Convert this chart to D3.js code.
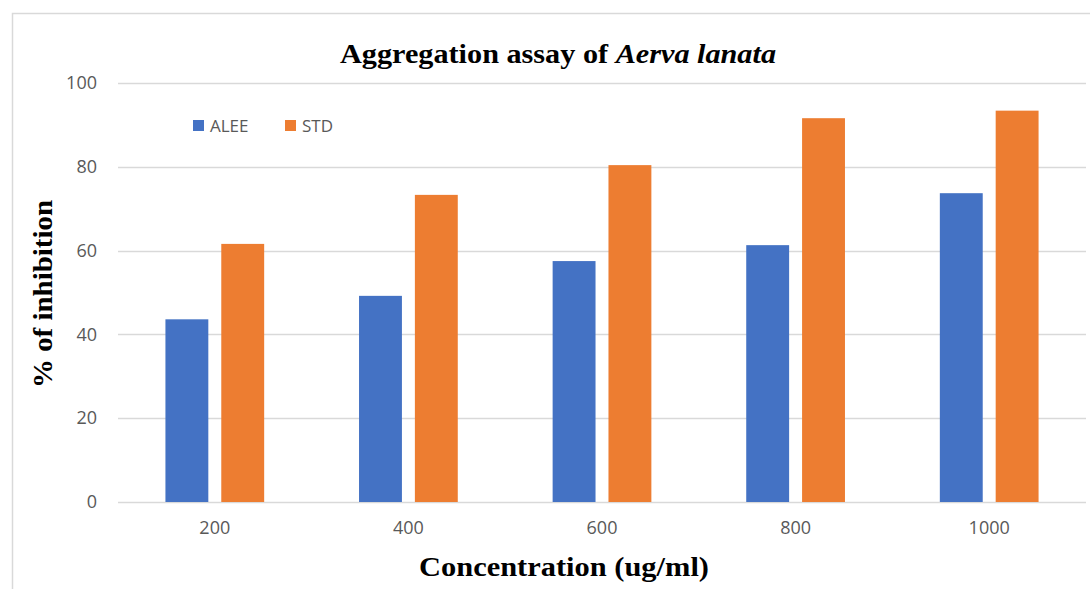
<!DOCTYPE html>
<html>
<head>
<meta charset="utf-8">
<script src="https://cdn.jsdelivr.net/npm/d3@7"></script>
<style>
  body { margin: 0; background: #fff; }
  svg { display: block; }
</style>
</head>
<body>
<svg id="graph"></svg>
<script>
// data
var concentrations = ["200", "400", "600", "800", "1000"];
var seriesNames = ["ALEE", "STD"];
var aleeValues = [43.6, 49.2, 57.5, 61.3, 73.7];
var stdValues = [61.6, 73.3, 80.4, 91.6, 93.4];
var yTicks = [0, 20, 40, 60, 80, 100];

var colors = { ALEE: "#4472C4", STD: "#ED7D31" };

var w = 1090, h = 589;
var svg = d3.select("#graph").attr("width", w).attr("height", h);

// chart area frame (light gray, cut at right and bottom)
svg.append("path")
    .attr("d", "M12.5," + h + " L12.5,13.5 L" + w + ",13.5")
    .attr("fill", "none")
    .attr("stroke", "#d9d9d9")
    .attr("stroke-width", 1.5);

var x0 = d3.scaleBand()
    .domain(concentrations)
    .range([118, 1086])
    .paddingInner(0.49)
    .paddingOuter(0.245);

var x1 = d3.scaleBand()
    .domain(seriesNames)
    .range([0, x0.bandwidth()])
    .paddingInner(0.232);

var y = d3.scaleLinear()
    .domain([0, 100])
    .range([502, 83]);

// gridlines
svg.append("g")
    .selectAll("line")
    .data(yTicks)
    .join("line")
    .attr("x1", 118)
    .attr("x2", 1086)
    .attr("y1", function(d){ return Math.round(y(d)) + 0.5; })
    .attr("y2", function(d){ return Math.round(y(d)) + 0.5; })
    .attr("stroke", "#d9d9d9")
    .attr("stroke-width", 1.5);

// y tick labels
var axisY = d3.axisLeft(y).tickValues(yTicks).tickSize(0).tickPadding(0);
var gy = svg.append("g")
    .attr("transform", "translate(97,0)")
    .call(axisY);
gy.select(".domain").remove();
gy.selectAll("text")
    .attr("font-family", "'Open Sans', 'Liberation Sans', sans-serif")
    .attr("font-size", 18)
    .attr("fill", "#595959");

// x tick labels
var axisX = d3.axisBottom(x0).tickSize(0).tickPadding(0);
var gx = svg.append("g")
    .attr("transform", "translate(0,521)")
    .call(axisX);
gx.select(".domain").remove();
gx.selectAll("text")
    .attr("font-family", "'Open Sans', 'Liberation Sans', sans-serif")
    .attr("font-size", 18)
    .attr("fill", "#595959");

// bars
var rows = concentrations.map(function(c, i){
    return { key: c, ALEE: aleeValues[i], STD: stdValues[i] };
});

svg.append("g")
    .selectAll("g")
    .data(rows)
    .join("g")
    .attr("transform", function(d){ return "translate(" + x0(d.key) + ",0)"; })
    .selectAll("rect")
    .data(function(d){ return seriesNames.map(function(s){ return { s: s, v: d[s] }; }); })
    .join("rect")
    .attr("x", function(d){ return x1(d.s); })
    .attr("y", function(d){ return y(d.v); })
    .attr("width", x1.bandwidth())
    .attr("height", function(d){ return y(0) - y(d.v); })
    .attr("fill", function(d){ return colors[d.s]; });

// legend
var legendX = [193, 285];
var legend = svg.append("g")
    .selectAll("g")
    .data(seriesNames)
    .join("g")
    .attr("transform", function(d, i){ return "translate(" + legendX[i] + ",120)"; });
legend.append("rect")
    .attr("width", 11)
    .attr("height", 11)
    .attr("fill", function(d){ return colors[d]; });
legend.append("text")
    .attr("x", 17)
    .attr("y", 12)
    .attr("font-family", "'Open Sans', 'Liberation Sans', sans-serif")
    .attr("font-size", 17)
    .attr("fill", "#595959")
    .text(function(d){ return d; });

// title
var title = svg.append("text")
    .attr("x", 340)
    .attr("y", 63)
    .attr("textLength", 436)
    .attr("lengthAdjust", "spacingAndGlyphs")
    .attr("font-family", "'Liberation Serif', 'Times New Roman', serif")
    .attr("font-weight", "bold")
    .attr("font-size", 28)
    .attr("fill", "#000");
title.append("tspan").text("Aggregation assay of ");
title.append("tspan").attr("font-style", "italic").text("Aerva lanata");

// axis titles
svg.append("text")
    .attr("text-anchor", "middle")
    .attr("transform", "translate(52,294) rotate(-90)")
    .attr("textLength", 188)
    .attr("lengthAdjust", "spacingAndGlyphs")
    .attr("font-family", "'Liberation Serif', 'Times New Roman', serif")
    .attr("font-weight", "bold")
    .attr("font-size", 28)
    .text("% of inhibition");

svg.append("text")
    .attr("x", 419)
    .attr("y", 576)
    .attr("textLength", 290)
    .attr("lengthAdjust", "spacingAndGlyphs")
    .attr("font-family", "'Liberation Serif', 'Times New Roman', serif")
    .attr("font-weight", "bold")
    .attr("font-size", 28)
    .text("Concentration (ug/ml)");
</script>
</body>
</html>
